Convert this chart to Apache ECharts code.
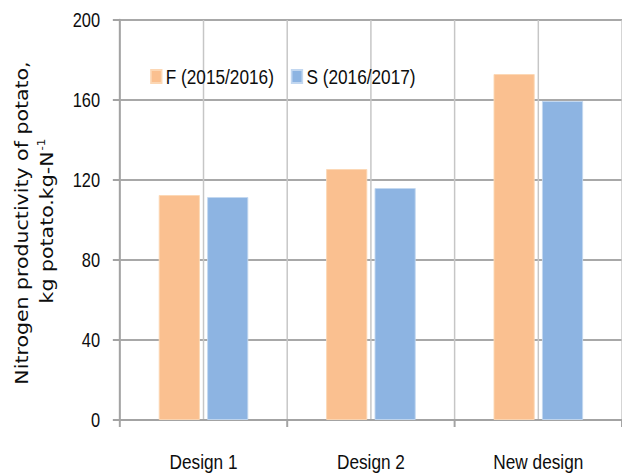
<!DOCTYPE html>
<html>
<head>
<meta charset="utf-8">
<script src="https://cdn.jsdelivr.net/npm/echarts@6/dist/echarts.min.js"></script>
<style>
  html, body { margin: 0; padding: 0; background: #fff; overflow: hidden; width: 622px; height: 474px; }
  /* the chart is laid out wide and narrowed horizontally, giving condensed lettering */
  #chart { width: 758px; height: 474px; transform: scaleX(0.8206); transform-origin: 0 0; }
</style>
</head>
<body>
<div id="chart"></div>
<script>
// Nitrogen productivity by design, two growing seasons
const categories = ['Design 1', 'Design 2', 'New design'];
const seasonF = [112.5, 125.5, 173];
const seasonS = [111.5, 116, 159.5];
const seriesNames = ['F (2015/2016)', 'S (2016/2017)'];
const yMin = 0, yMax = 200, yStep = 40;

const sans = "'Liberation Sans', Arial, sans-serif";
const titleFont = "'DejaVu Sans', Verdana, sans-serif";
const textColor = '#0d0d0d';
const axisGray = '#a3a3a3';

const chart = echarts.init(document.getElementById('chart'), null, { renderer: 'svg' });

chart.setOption({
  animation: false,
  backgroundColor: '#ffffff',
  grid: { left: 146, top: 20, bottom: 54, right: -1, containLabel: false },
  legend: {
    left: 178,
    top: 61,
    icon: 'rect',
    itemWidth: 13,
    itemHeight: 13,
    itemGap: 20.5,
    textStyle: { fontFamily: sans, fontSize: 21, color: textColor },
    data: seriesNames
  },
  xAxis: [
    {
      type: 'category',
      data: categories,
      axisLine: { lineStyle: { color: axisGray, width: 2 } },
      axisTick: { show: true, length: 7, lineStyle: { color: axisGray, width: 2.4 } },
      axisLabel: { margin: 31, fontFamily: sans, fontSize: 21, color: textColor },
      splitLine: { show: false }
    },
    {
      // half-band divisions for the vertical grid
      type: 'category',
      position: 'bottom',
      data: ['', '', '', '', '', ''],
      axisLine: { show: false },
      axisTick: { show: false },
      axisLabel: { show: false },
      splitLine: { show: true, lineStyle: { color: '#c6c6c6', width: 1.8 } }
    }
  ],
  yAxis: {
    type: 'value',
    min: yMin,
    max: yMax,
    interval: yStep,
    axisLine: { show: true, lineStyle: { color: axisGray, width: 2.4 } },
    axisTick: { show: true, length: 8.5, lineStyle: { color: axisGray, width: 2 } },
    axisLabel: { margin: 24, fontFamily: sans, fontSize: 20, color: textColor },
    splitLine: { show: true, lineStyle: { color: '#a8a8a8', width: 2 } }
  },
  graphic: [
    {
      type: 'text',
      x: 27,
      y: 223,
      rotation: Math.PI / 2,
      style: {
        text: 'Nitrogen productivity of potato,',
        x: 0, y: 0,
        fontFamily: titleFont,
        fontSize: 20.5,
        fill: textColor,
        align: 'center', verticalAlign: 'middle',
        textAlign: 'center', textVerticalAlign: 'middle'
      }
    },
    {
      type: 'text',
      x: 57,
      y: 221,
      rotation: Math.PI / 2,
      style: {
        text: '{a|kg potato.kg-N}{s|-1}',
        x: 0, y: 0,
        fontFamily: titleFont,
        fontSize: 20.5,
        fill: textColor,
        align: 'center', verticalAlign: 'middle',
        textAlign: 'center', textVerticalAlign: 'middle',
        rich: {
          a: { fontFamily: titleFont, fontSize: 20.5, fill: textColor, color: textColor, lineHeight: 24 },
          s: { fontFamily: titleFont, fontSize: 12, fill: textColor, color: textColor, verticalAlign: 'top', lineHeight: 24, padding: [0, 0, 7, 1] }
        }
      }
    }
  ],
  series: [
    {
      name: seriesNames[0],
      type: 'bar',
      xAxisIndex: 0,
      data: seasonF,
      barWidth: 50,
      barGap: '18%',
      itemStyle: { color: '#fac090', borderColor: '#fcd7b4', borderWidth: 1 }
    },
    {
      name: seriesNames[1],
      type: 'bar',
      xAxisIndex: 0,
      data: seasonS,
      barWidth: 50,
      barGap: '18%',
      itemStyle: { color: '#8db4e2', borderColor: '#c2d7f0', borderWidth: 1 }
    }
  ]
});
</script>
</body>
</html>
